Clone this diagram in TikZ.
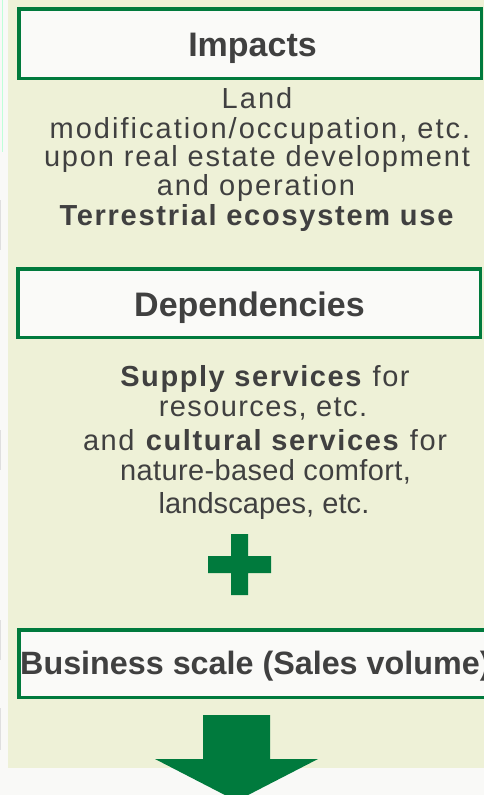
\documentclass[tikz,border=0pt]{standalone}
\usepackage{fontspec}
\setmainfont{Liberation Sans}
\newfontfamily\bodyfont{Liberation Sans}
\newcommand{\lsp}[1]{\addfontfeatures{LetterSpace=#1}}
\definecolor{bggreen}{RGB}{238,241,215}
\definecolor{boxfill}{RGB}{250,250,248}
\definecolor{dkgreen}{RGB}{0,122,61}
\definecolor{txt}{RGB}{64,64,64}
\definecolor{paper}{RGB}{249,249,247}
\tikzset{
  hbox/.style={draw=dkgreen, line width=3.5pt, fill=boxfill, inner sep=0pt},
  title/.style={anchor=base, inner sep=0pt, text=txt, font=\fontsize{34pt}{34pt}\selectfont\bfseries},
  body/.style={anchor=base, inner sep=0pt, text=txt, font=\bodyfont\fontsize{29pt}{29pt}\selectfont},
  bodyb/.style={body, font=\bodyfont\fontsize{29pt}{29pt}\selectfont\bfseries},
  artifact/.style={line width=1pt, draw=gray!25},
}
\begin{document}
\begin{tikzpicture}[x=1pt,y=-1pt]
\useasboundingbox (0,0) rectangle (484,795);
\clip (0,0) rectangle (484,795);
% backgrounds
\fill[paper] (0,0) rectangle (484,795);
\fill[bggreen] (8,0) rectangle (484,768);
% left strip artifacts
\draw[line width=1pt, draw=green!60!cyan!25] (2,0) -- (2,152);
\draw[artifact] (0.5,200) -- (0.5,250);
\draw[artifact] (0.5,430) -- (0.5,470);
\draw[artifact] (0.5,620) -- (0.5,660);
\draw[artifact] (0.5,708) -- (0.5,750);

% Impacts box
\node[hbox, minimum width=462.5pt, minimum height=69.5pt] (impbox) at (250,43.5) {};
\node[title] (imptitle) at (252.5,56) {Impacts};
\node[body] (i1) at (257,108) {\lsp{7}Land};
\node[body] (i2) at (260,138) {\lsp{7}modification/occupation, etc.};
\node[body] (i3) at (257,166.5) {\lsp{6.3}upon real estate development};
\node[body] (i4) at (256,195.5) {\lsp{6.5}and operation};
\node[bodyb] (i5) at (256.5,225) {\lsp{6}Terrestrial ecosystem use};

% Dependencies box
\node[hbox, minimum width=462.5pt, minimum height=68.5pt] (depbox) at (249,303) {};
\node[title] (deptitle) at (249.5,316) {Dependencies};
\node[body] (d1) at (265,386) {\lsp{5.4}\textbf{Supply services} for};
\node[body] (d2) at (263,416.5) {\lsp{4.8}resources, etc.};
\node[body] (d3) at (265,450) {\lsp{5.5}and \textbf{cultural services} for};
\node[body] (d4) at (265.5,480.5) {\lsp{1.3}nature-based comfort,};
\node[body] (d5) at (264,513) {\lsp{0.3}landscapes, etc.};

% plus sign
\fill[dkgreen] (231,534) -- (248,534) -- (248,556) -- (271,556) -- (271,573)
  -- (248,573) -- (248,595) -- (231,595) -- (231,573) -- (208,573)
  -- (208,556) -- (231,556) -- cycle;

% Business scale box
\node[hbox, minimum width=480pt, minimum height=67.5pt, anchor=west] (busbox) at (17.25,663.5) {};
\node[title, anchor=base west, font=\fontsize{32.3pt}{32.3pt}\selectfont\bfseries] (bustitle) at (20,674) {Business scale (Sales volume)};

% down arrow
\fill[dkgreen] (203,715) -- (270,715) -- (270,759) -- (318,759) -- (236.5,801)
  -- (155,759) -- (203,759) -- cycle;
\end{tikzpicture}
\end{document}
